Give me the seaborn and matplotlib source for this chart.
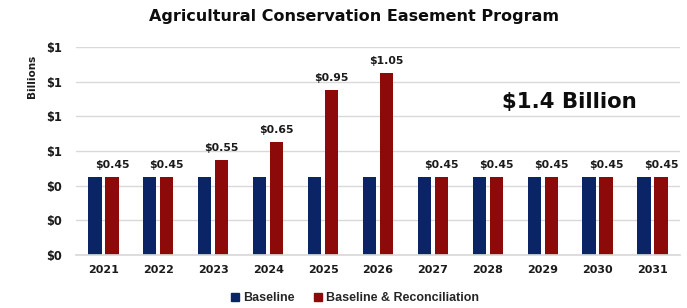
import matplotlib
matplotlib.use("Agg")
import matplotlib.pyplot as plt
import seaborn as sns
import pandas as pd
from matplotlib.ticker import FuncFormatter, MultipleLocator
from matplotlib.patches import Patch

years = ["2021", "2022", "2023", "2024", "2025", "2026", "2027", "2028", "2029", "2030", "2031"]
baseline = [0.45, 0.45, 0.45, 0.45, 0.45, 0.45, 0.45, 0.45, 0.45, 0.45, 0.45]
reconciliation = [0.45, 0.45, 0.55, 0.65, 0.95, 1.05, 0.45, 0.45, 0.45, 0.45, 0.45]
series_names = ["Baseline", "Baseline & Reconciliation"]
title = "Agricultural Conservation Easement Program"
total_note = "$1.4 Billion"

df = pd.DataFrame({
    "year": years * 2,
    "value": baseline + reconciliation,
    "series": [series_names[0]] * len(years) + [series_names[1]] * len(years),
})

sns.set_theme(style="white")
plt.rcParams["font.family"] = ["DejaVu Sans"]

colors = {series_names[0]: "#0b2466", series_names[1]: "#8c0a0a"}
txt = "#1a1a1a"

fig = plt.figure(figsize=(6.87, 3.08), dpi=100)
ax = fig.add_axes([0.1106, 0.172, 0.8792, 0.675])

sns.barplot(data=df, x="year", y="value", hue="series", palette=colors,
            width=0.62, gap=0.22, ax=ax, legend=False, saturation=1,
            linewidth=0)

ax.set_ylim(0, 1.2)
ax.set_xlim(-0.5, len(years) - 0.5)
ax.yaxis.set_major_locator(MultipleLocator(0.2))
ax.yaxis.set_major_formatter(FuncFormatter(lambda v, p: f"${v:.0f}"))
ax.grid(axis="y", color="#d9d9d9", linewidth=1)
ax.set_axisbelow(True)
for s in ["top", "right", "left"]:
    ax.spines[s].set_visible(False)
ax.spines["bottom"].set_color("#d9d9d9")
ax.tick_params(axis="x", length=0, labelsize=8, pad=7)
ax.tick_params(axis="y", length=0, labelsize=8.3, pad=10)
for lab in ax.get_xticklabels() + ax.get_yticklabels():
    lab.set_fontweight("bold")
    lab.set_color(txt)
ax.set_xlabel("")
ax.set_ylabel("Billions", fontsize=7.5, fontweight="bold", color=txt)
ax.yaxis.set_label_coords(-0.064, 0.86)

# data labels above reconciliation bars
red_bars = ax.containers[1]
ax.bar_label(red_bars, labels=[f"${v:.2f}" for v in reconciliation],
             padding=5, fontsize=7.8, fontweight="bold", color=txt)

ax.text(8.48, 0.885, total_note, fontsize=15.3, fontweight="bold",
        ha="center", va="center", color="#0d0d0d")

fig.text(0.515, 0.945, title, ha="center", va="center",
         fontsize=11.5, fontweight="bold", color="#0d0d0d")

handles = [Patch(color=colors[n], label=n) for n in series_names]
fig.legend(handles=handles, loc="center", bbox_to_anchor=(0.517, 0.032),
           ncol=2, frameon=False, handlelength=0.6, handleheight=0.6,
           columnspacing=1.6, handletextpad=0.35,
           prop={"family": "Liberation Sans", "size": 9, "weight": "bold"})

fig.savefig("out.png", dpi=100)
